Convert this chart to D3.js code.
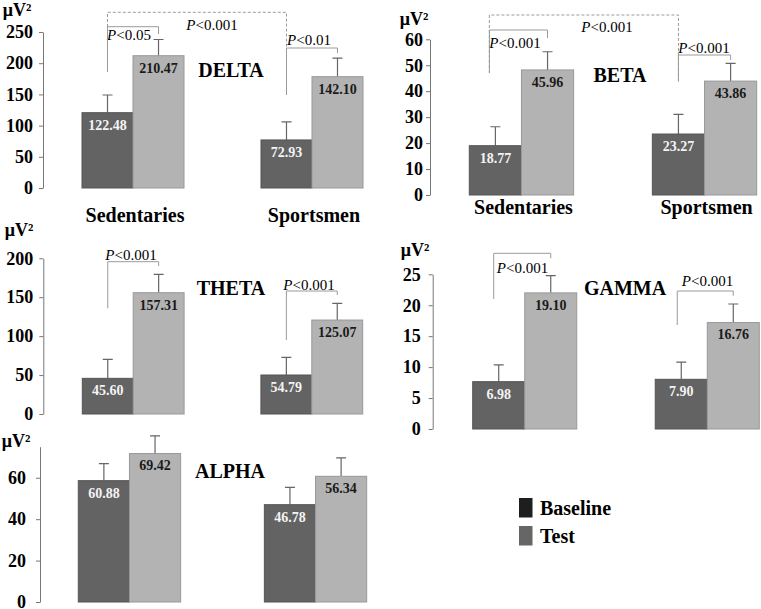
<!DOCTYPE html>
<html>
<head>
<meta charset="utf-8">
<script src="https://cdn.jsdelivr.net/npm/d3@7"></script>
<style>
  body { margin: 0; background: #fff; }
</style>
</head>
<body>
<script>
var groups = ["Sedentaries", "Sportsmen"];
var series = ["Baseline", "Test"];

// bar heights as drawn, [Baseline, Test] per group
var deltaBars = [[120.7, 212.0], [77.0, 178.4]];
var deltaErr  = [[149, 238], [106, 208]];
var deltaText = [["122.48", "210.47"], ["72.93", "142.10"]];
var deltaTicks = [0, 50, 100, 150, 200, 250];
var deltaP = ["<0.05", "<0.001", "<0.01"];

var betaBars = [[19.0, 48.2], [23.5, 43.9]];
var betaErr  = [[26.3, 55.2], [31.1, 50.7]];
var betaText = [["18.77", "45.96"], ["23.27", "43.86"]];
var betaTicks = [0, 10, 20, 30, 40, 50, 60];
var betaP = ["<0.001", "<0.001", "<0.001"];

var thetaBars = [[45.8, 155.8], [50.1, 120.7]];
var thetaErr  = [[70.2, 179.4], [72.8, 142.2]];
var thetaText = [["45.60", "157.31"], ["54.79", "125.07"]];
var thetaTicks = [0, 50, 100, 150, 200];
var thetaP = ["<0.001", "<0.001"];

var gammaBars = [[7.65, 22.0], [8.03, 17.2]];
var gammaErr  = [[10.35, 24.8], [10.8, 20.2]];
var gammaText = [["6.98", "19.10"], ["7.90", "16.76"]];
var gammaTicks = [0, 5, 10, 15, 20, 25];
var gammaP = ["<0.001", "<0.001"];

var alphaBars = [[58.6, 71.7], [47.0, 60.7]];
var alphaErr  = [[66.8, 80.2], [55.4, 69.6]];
var alphaText = [["60.88", "69.42"], ["46.78", "56.34"]];
var alphaTicks = [0, 20, 40, 60];

var serif = '"Liberation Serif", "Times New Roman", serif';
var colors = { Baseline: "#636363", Test: "#b3b3b3" };
var strokes = { Baseline: "#555", Test: "#999" };
var textCol = { Baseline: "#f4f4f4", Test: "#1a1a1a" };

var panels = [
  { name: "DELTA", bars: deltaBars, err: deltaErr, text: deltaText, ticks: deltaTicks,
    domain: [0, 250], yRange: [188, 32], axisX: 43, tickPad: 6, xRange: [82, 363], pad: 0.43,
    title: [231, 70], unit: [17, 10], cats: 215,
    brackets: [
      { a: [0, 0], b: [0, 1], top: 26.7, lb: 72, rb: 34, p: deltaP[0], lx: 129, ly: 35 },
      { a: [0, 0], b: [1, 0], top: 12.3, lb: 72, rb: 95, p: deltaP[1], lx: 212, ly: 25, dash: true },
      { a: [1, 0], b: [1, 1], top: 48, lb: 95, rb: 53, p: deltaP[2], lx: 309, ly: 40 }
    ] },
  { name: "BETA", bars: betaBars, err: betaErr, text: betaText, ticks: betaTicks,
    domain: [0, 60], yRange: [195, 39.3], axisX: 430, tickPad: 3, xRange: [469.3, 756.7], pad: 0.43,
    title: [620, 75], unit: [414, 19], cats: 207,
    brackets: [
      { a: [0, 0], b: [0, 1], top: 30, lb: 73, rb: 38, p: betaP[0], lx: 515, ly: 42.7, dx: -6 },
      { a: [0, 0], b: [1, 0], top: 15, lb: 73, rb: 81.7, p: betaP[1], lx: 607, ly: 26.7, dx: -6, dash: true },
      { a: [1, 0], b: [1, 1], top: 55, lb: 81.7, rb: 60, p: betaP[2], lx: 704, ly: 47.3 }
    ] },
  { name: "THETA", bars: thetaBars, err: thetaErr, text: thetaText, ticks: thetaTicks,
    domain: [0, 200], yRange: [414, 258.3], axisX: 43.3, tickPad: 6, xRange: [82.3, 362.7], pad: 0.43,
    title: [231, 288], unit: [19, 230],
    brackets: [
      { a: [0, 0], b: [0, 1], top: 261.7, lb: 308.3, rb: 266, p: thetaP[0], lx: 131, ly: 255 },
      { a: [1, 0], b: [1, 1], top: 291, lb: 340, rb: 295, p: thetaP[1], lx: 309, ly: 284.3 }
    ] },
  { name: "GAMMA", bars: gammaBars, err: gammaErr, text: gammaText, ticks: gammaTicks,
    domain: [0, 25], yRange: [429, 274.3], axisX: 432.7, tickPad: 8, xRange: [472.7, 759.3], pad: 0.43,
    title: [625, 288], unit: [415, 250],
    brackets: [
      { a: [0, 0], b: [0, 1], top: 253.3, lb: 299, rb: 258.3, p: gammaP[0], lx: 522.5, ly: 267.7, dx: -5 },
      { a: [1, 0], b: [1, 1], top: 291, lb: 325, rb: 295.7, p: gammaP[1], lx: 707.5, ly: 281, dx: -4 }
    ] },
  { name: "ALPHA", bars: alphaBars, err: alphaErr, text: alphaText, ticks: alphaTicks,
    domain: [0, 75], yRange: [602, 446.7], axisX: 40, tickPad: 10, xRange: [78.3, 366.7], pad: 0.45,
    title: [230, 471], unit: [16, 441], brackets: [] }
];

var svg = d3.select("body")
    .append("svg")
    .attr("width", 761)
    .attr("height", 609)
    .style("font-family", serif);

panels.forEach(function(p) {
  var g = svg.append("g");
  var y = d3.scaleLinear().domain(p.domain).range(p.yRange);
  var x = d3.scaleBand().domain(groups).range(p.xRange).paddingInner(p.pad);
  var xs = d3.scaleBand().domain(series).range([0, x.bandwidth()]);
  var bw = xs.bandwidth();

  // axis
  var ax = g.append("g")
      .attr("transform", "translate(" + p.axisX + ",0)")
      .call(d3.axisLeft(y).tickValues(p.ticks).tickSize(4).tickSizeOuter(0).tickPadding(p.tickPad));
  ax.attr("font-family", null).attr("font-size", null);
  ax.select(".domain").attr("stroke", "#777");
  ax.selectAll(".tick line").attr("stroke", "#777");
  ax.selectAll(".tick text")
      .style("font-family", serif)
      .style("font-size", "18px")
      .style("font-weight", "bold")
      .attr("fill", "#000");

  var rows = [];
  groups.forEach(function(gn, i) {
    series.forEach(function(s, j) {
      rows.push({ g: gn, s: s, v: p.bars[i][j], e: p.err[i][j], t: p.text[i][j] });
    });
  });
  function cx(d) { return x(d.g) + xs(d.s) + bw / 2; }

  // error bars
  g.selectAll(".err")
      .data(rows)
      .enter()
      .append("path")
      .attr("d", function(d) {
        return "M" + cx(d) + "," + y(d.v) + "V" + y(d.e) + "M" + (cx(d) - 5) + "," + y(d.e) + "H" + (cx(d) + 5);
      })
      .attr("stroke", "#666")
      .attr("stroke-width", 1.2)
      .attr("fill", "none");

  // bars
  g.selectAll(".bar")
      .data(rows)
      .enter()
      .append("rect")
      .attr("x", function(d) { return x(d.g) + xs(d.s); })
      .attr("y", function(d) { return y(d.v); })
      .attr("width", bw)
      .attr("height", function(d) { return y(0) - y(d.v); })
      .attr("fill", function(d) { return colors[d.s]; })
      .attr("stroke", function(d) { return strokes[d.s]; })
      .attr("stroke-width", 1);

  // values
  g.selectAll(".val")
      .data(rows)
      .enter()
      .append("text")
      .text(function(d) { return d.t; })
      .attr("x", cx)
      .attr("y", function(d) { return y(d.v) + 12; })
      .attr("dy", "0.35em")
      .attr("text-anchor", "middle")
      .style("font-family", serif)
      .style("font-size", "14px")
      .style("font-weight", "bold")
      .attr("fill", function(d) { return textCol[d.s]; });

  // brackets
  p.brackets.forEach(function(b) {
    var x1 = x(groups[b.a[0]]) + xs(series[b.a[1]]) + bw / 2 + (b.dx || 0);
    var x2 = x(groups[b.b[0]]) + xs(series[b.b[1]]) + bw / 2;
    g.append("path")
        .attr("d", "M" + x1 + "," + b.lb + "V" + b.top + "H" + x2 + "V" + b.rb)
        .attr("fill", "none")
        .attr("stroke", "#9a9a9a")
        .attr("stroke-width", 1)
        .attr("stroke-dasharray", b.dash ? "3,2" : null);
    var t = g.append("text")
        .attr("x", b.lx)
        .attr("y", b.ly)
        .attr("dy", "0.35em")
        .attr("text-anchor", "middle")
        .style("font-family", serif)
        .style("font-size", "15px")
        .attr("fill", "#000");
    t.append("tspan").style("font-style", "italic").text("P");
    t.append("tspan").text(b.p);
  });

  // title and unit
  g.append("text")
      .text(p.name)
      .attr("x", p.title[0])
      .attr("y", p.title[1])
      .attr("dy", "0.35em")
      .attr("text-anchor", "middle")
      .style("font-family", serif)
      .style("font-size", "20px")
      .style("font-weight", "bold");
  g.append("text")
      .text("μV²")
      .attr("x", p.unit[0])
      .attr("y", p.unit[1])
      .attr("dy", "0.35em")
      .attr("text-anchor", "middle")
      .style("font-family", serif)
      .style("font-size", "18px")
      .style("font-weight", "bold");

  if (p.cats) {
    g.selectAll(".cat")
        .data(groups)
        .enter()
        .append("text")
        .text(function(d) { return d; })
        .attr("x", function(d) { return x(d) + x.bandwidth() / 2 + 2; })
        .attr("y", p.cats)
        .attr("dy", "0.35em")
        .attr("text-anchor", "middle")
        .style("font-family", serif)
        .style("font-size", "20px")
        .style("font-weight", "bold");
  }
});

// legend
var legendColors = ["#1e1e1e", "#666666"];
var leg = svg.append("g").attr("transform", "translate(519,498)");
leg.selectAll("rect")
    .data(series)
    .enter()
    .append("rect")
    .attr("x", 0)
    .attr("y", function(d, i) { return i * 28; })
    .attr("width", 13.5)
    .attr("height", 19.5)
    .attr("fill", function(d, i) { return legendColors[i]; });
leg.selectAll("text")
    .data(series)
    .enter()
    .append("text")
    .text(function(d) { return d; })
    .attr("x", 21)
    .attr("y", function(d, i) { return i * 28 + 10; })
    .attr("dy", "0.35em")
    .style("font-family", serif)
    .style("font-size", "20px")
    .style("font-weight", "bold");
</script>
</body>
</html>
